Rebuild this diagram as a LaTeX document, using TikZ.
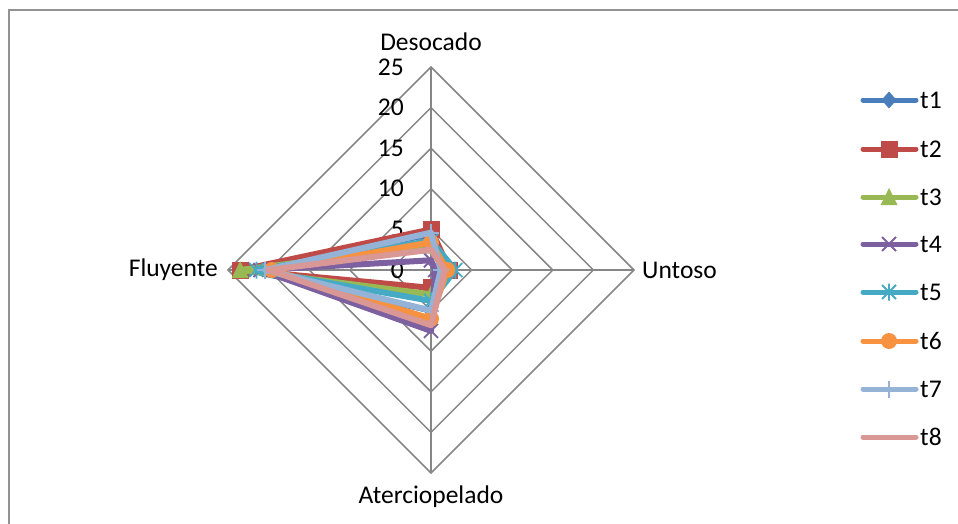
\documentclass[tikz,border=0pt]{standalone}
\usepackage{fontspec}
\setmainfont{Carlito}
\begin{document}
\begin{tikzpicture}[x=1pt,y=-1pt,
  grid/.style={draw=gridgray,line width=1.5pt},
  frame/.style={draw=gridgray!90,line width=1.6pt},
  lbl/.style={font=\fontsize{25.5}{30}\selectfont,inner sep=0pt},
  ser/.style={line width=6pt,line join=round,line cap=round},
  legser/.style={line width=5pt,line cap=round},
]
\definecolor{gridgray}{HTML}{868686}
\definecolor{cA}{HTML}{4A7EBB}
\definecolor{cB}{HTML}{BE4B48}
\definecolor{cC}{HTML}{98B954}
\definecolor{cD}{HTML}{7D60A0}
\definecolor{cE}{HTML}{46AAC5}
\definecolor{cF}{HTML}{F69240}
\definecolor{cG}{HTML}{95B3D7}
\definecolor{cH}{HTML}{D99795}
\tikzset{
  mkdiamond/.pic={\fill (0,-8.5)--(7.5,0)--(0,8.5)--(-7.5,0)--cycle;},
  mksquare/.pic={\fill (-8.5,-8.5) rectangle (8.5,8.5);},
  mktriangle/.pic={\fill (0,-9)--(8.5,8)--(-8.5,8)--cycle;},
  mkcross/.pic={\draw[line width=1.8pt] (-7,-7)--(7,7) (-7,7)--(7,-7);},
  mkstar/.pic={\draw[line width=1.8pt] (-7,-7)--(7,7) (-7,7)--(7,-7) (0,-8.5)--(0,8.5);},
  mkcircle/.pic={\fill (0,0) circle (8);},
  mkplus/.pic={\draw[line width=1.8pt] (-8,0)--(8,0) (0,-8.5)--(0,8.5);},
  mknone/.pic={},
}
\useasboundingbox (0,0) rectangle (958,523);
% frame
\draw[frame] (9,530) -- (9,10) -- (970,10);
% grid
\def\cx{431}\def\cy{270}\def\u{8.12}
\foreach \r in {5,10,15,20,25}{
  \draw[grid] (\cx,\cy-\r*\u) -- (\cx+\r*\u,\cy) -- (\cx,\cy+\r*\u) -- (\cx-\r*\u,\cy) -- cycle;
}
\draw[grid] (\cx,\cy-25*\u) -- (\cx,\cy+25*\u);
\draw[grid] (\cx-25*\u,\cy) -- (\cx+25*\u,\cy);
% axis value labels
\foreach \r in {0,5,10,15,20,25}{
  \node[lbl,anchor=east] (v\r) at (404,\cy-\r*\u) {\r};
}
% axis labels
\node[lbl] (desocado) at (431,42) {Desocado};
\node[lbl,anchor=west] (untoso) at (642,270) {Untoso};
\node[lbl,anchor=east] (fluyente) at (218,270) {Fluyente};
\node[lbl] (aterc) at (431,497) {Aterciopelado};
% series: colour, marker, D, U, A, F
\foreach \col/\mk/\d/\uu/\a/\f in {
  cA/mkdiamond/4.4/1.5/5.0/22.5,
  cB/mksquare/5.0/2.3/2.2/23.5,
  cC/mktriangle/3.0/1.5/3.0/23.5,
  cD/mkcross/1.2/0.5/7.5/21.0,
  cE/mkstar/3.6/3.0/3.8/21.5,
  cF/mkcircle/3.4/2.0/6.0/19.6,
  cG/mkplus/4.6/1.2/5.0/20.4,
  cH/mknone/2.5/1.7/6.8/20.0}{
  \draw[ser,\col] (\cx,\cy-\d*\u) -- (\cx+\uu*\u,\cy) -- (\cx,\cy+\a*\u) -- (\cx-\f*\u,\cy) -- cycle;
  \begin{scope}[\col,draw=\col,fill=\col]
  \pic at (\cx,\cy-\d*\u) {\mk};
  \pic at (\cx+\uu*\u,\cy) {\mk};
  \pic at (\cx,\cy+\a*\u) {\mk};
  \pic at (\cx-\f*\u,\cy) {\mk};
  \end{scope}
}
% legend
\foreach \i/\col/\mk/\y in {1/cA/mkdiamond/100,2/cB/mksquare/149,3/cC/mktriangle/197,4/cD/mkcross/244,5/cE/mkstar/292,6/cF/mkcircle/341,7/cG/mkplus/389,8/cH/mknone/437}{
  \coordinate (la\i) at (863,\y);
  \coordinate (lb\i) at (916,\y);
  \draw[legser,\col] (la\i) -- (lb\i);
  \begin{scope}[\col,draw=\col,fill=\col]
  \pic at (889,\y) {\mk};
  \end{scope}
  \node[lbl,anchor=west] (t\i) at (920,\y) {t\i};
}
\end{tikzpicture}
\end{document}
